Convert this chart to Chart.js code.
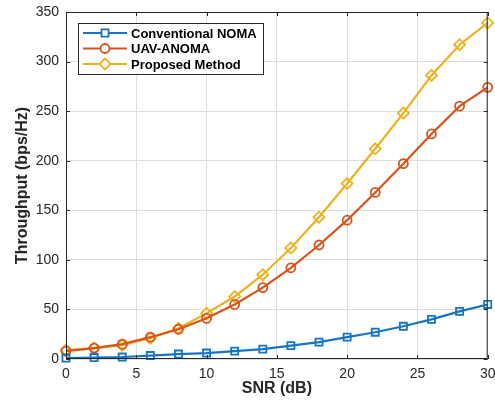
<!DOCTYPE html>
<html>
<head>
<meta charset="utf-8">
<script src="https://cdn.jsdelivr.net/npm/chart.js@4"></script>
<style>
  html, body { margin: 0; padding: 0; background: #fff; }
  #wrap { width: 495px; height: 401px; }
</style>
</head>
<body>
<div id="wrap"><canvas id="chart"></canvas></div>
<script>
// data
const snr = [0, 2, 4, 6, 8, 10, 12, 14, 16, 18, 20, 22, 24, 26, 28, 30];
const conventionalNoma = [1, 1.5, 2, 3.5, 5, 6, 8, 10, 13.5, 17, 22, 27, 33, 40, 48, 55];
const uavAnoma = [8, 11, 15, 22, 30, 41, 55, 72, 92, 115, 140, 168, 197, 227, 255, 274];
const proposed = [9, 11, 14, 21, 31, 46, 63, 85, 112, 143, 177, 212, 248, 286, 317, 339];
const xTicks = [0, 5, 10, 15, 20, 25, 30];
const yTicks = [0, 50, 100, 150, 200, 250, 300, 350];

const seriesNames = ["Conventional NOMA", "UAV-ANOMA", "Proposed Method"];
const seriesColors = ["#1575c4", "#D95319", "#EDB120"];
const seriesMarkers = ["rect", "circle", "rectRot"];
const markerSizes = [5, 4.5, 5.5];
const seriesValues = [conventionalNoma, uavAnoma, proposed];

const axisColor = "#262626";
const font = "'Liberation Sans', Arial, sans-serif";

let datasets = seriesValues.map(function (vals, i) {
    return {
        label: seriesNames[i],
        data: snr.map((x, k) => ({ x: x, y: vals[k] })),
        borderColor: seriesColors[i],
        backgroundColor: seriesColors[i],
        borderWidth: 2.2,
        pointStyle: seriesMarkers[i],
        pointRadius: markerSizes[i],
        pointBorderWidth: 1.8,
        pointBackgroundColor: "rgba(255,255,255,0)",
        pointBorderColor: seriesColors[i],
        tension: 0,
        clip: false
    };
});

// box + inward ticks on all sides, MATLAB style
const boxPlugin = {
    id: "box",
    afterDraw(chart) {
        let ctx = chart.ctx, a = chart.chartArea;
        let xs = chart.scales.x, ys = chart.scales.y;
        ctx.save();
        ctx.strokeStyle = axisColor;
        ctx.lineWidth = 1;
        ctx.strokeRect(a.left + 0.5, a.top + 0.5, a.right - a.left - 1, a.bottom - a.top - 1);
        ctx.beginPath();
        xTicks.forEach(v => {
            let px = Math.round(xs.getPixelForValue(v)) + 0.5;
            ctx.moveTo(px, a.top); ctx.lineTo(px, a.top + 4);
            ctx.moveTo(px, a.bottom); ctx.lineTo(px, a.bottom - 4);
        });
        yTicks.forEach(v => {
            let py = Math.round(ys.getPixelForValue(v)) + 0.5;
            ctx.moveTo(a.left, py); ctx.lineTo(a.left + 4, py);
            ctx.moveTo(a.right, py); ctx.lineTo(a.right - 4, py);
        });
        ctx.stroke();
        ctx.restore();
    }
};

// legend box inside the axes, upper left
const legendPlugin = {
    id: "boxLegend",
    afterDraw(chart) {
        let ctx = chart.ctx, a = chart.chartArea;
        let x0 = a.left + 12, y0 = a.top + 11, w = 185, h = 51;
        ctx.save();
        ctx.fillStyle = "#fff";
        ctx.fillRect(x0, y0, w, h);
        ctx.strokeStyle = axisColor;
        ctx.lineWidth = 1;
        ctx.strokeRect(x0 + 0.5, y0 + 0.5, w, h);
        ctx.textBaseline = "middle";
        chart.data.datasets.forEach(function (ds, i) {
            let yy = y0 + 10 + i * 15.5;
            ctx.strokeStyle = ds.borderColor;
            ctx.lineWidth = 2.2;
            ctx.beginPath();
            ctx.moveTo(x0 + 5, yy); ctx.lineTo(x0 + 49, yy);
            ctx.stroke();
            ctx.lineWidth = 1.8;
            ctx.fillStyle = "#fff";
            Chart.helpers.drawPoint(ctx, { pointStyle: ds.pointStyle, radius: ds.pointRadius, borderWidth: 1.8, rotation: 0 }, x0 + 27, yy);
            ctx.fillStyle = "#000";
            ctx.font = "bold 13px " + font;
            ctx.fillText(ds.label, x0 + 53, yy + 1);
        });
        ctx.restore();
    }
};

new Chart(document.getElementById("chart"), {
    type: "line",
    data: { datasets: datasets },
    plugins: [boxPlugin, legendPlugin],
    options: {
        responsive: true,
        maintainAspectRatio: false,
        animation: false,
        layout: { padding: { left: 0, right: 6, top: 12, bottom: 0 } },
        plugins: { legend: { display: false }, tooltip: { enabled: false } },
        scales: {
            x: {
                type: "linear",
                min: 0, max: 30,
                afterBuildTicks: s => { s.ticks = xTicks.map(v => ({ value: v })); },
                afterFit: s => { s.height = 42; s.paddingLeft = 0; s.paddingRight = 0; },
                grid: { color: "#dedede", drawTicks: false },
                border: { display: false },
                ticks: { color: axisColor, font: { family: font, size: 14 }, padding: 7, maxRotation: 0 },
                title: { display: true, text: "SNR (dB)", color: axisColor, font: { family: font, size: 16, weight: "bold" }, padding: { top: 0, bottom: 3 } }
            },
            y: {
                min: 0, max: 350,
                afterBuildTicks: s => { s.ticks = yTicks.map(v => ({ value: v })); },
                afterFit: s => { s.width = 66; s.paddingTop = 0; s.paddingBottom = 0; },
                grid: { color: "#dedede", drawTicks: false },
                border: { display: false },
                ticks: { color: axisColor, font: { family: font, size: 14 }, padding: 7 },
                title: { display: true, text: "Throughput (bps/Hz)", color: axisColor, font: { family: font, size: 16, weight: "bold" }, padding: { top: 13, bottom: 0 } }
            }
        }
    }
});
</script>
</body>
</html>
